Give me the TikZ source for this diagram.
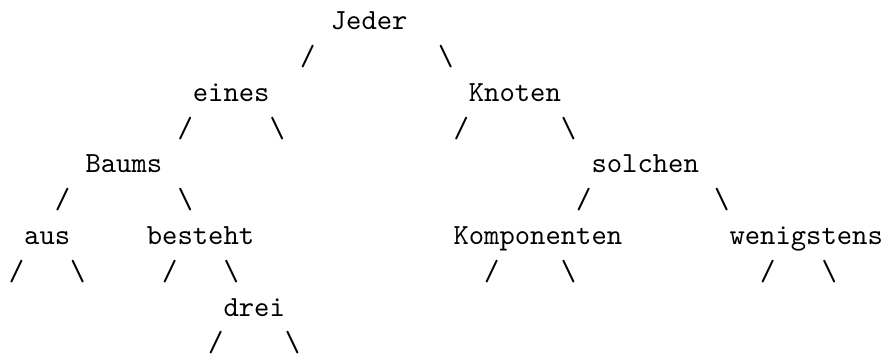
\documentclass[tikz,border=0pt]{standalone}
\usepackage{fontspec}
\usepackage{tikz}

\begin{document}
\begin{tikzpicture}[x=5.25pt, y=-12.26pt,
    txt/.style={anchor=base west, inner sep=0pt, font=\ttfamily}]
    \useasboundingbox (-0.54, -0.83) rectangle (56.98, 9.12);

    \node[txt] at (21, 0) (Jeder)       {Jeder};
    \node[txt] at (19, 1) (L1)          {/};
    \node[txt] at (28, 1) (R1)          {\textbackslash};

    \node[txt] at (12, 2) (eines)       {eines};
    \node[txt] at (30, 2) (Knoten)      {Knoten};
    \node[txt] at (11, 3) (L2)          {/};
    \node[txt] at (17, 3) (R2)          {\textbackslash};
    \node[txt] at (29, 3) (L3)          {/};
    \node[txt] at (36, 3) (R3)          {\textbackslash};

    \node[txt] at (5, 4)  (Baums)       {Baums};
    \node[txt] at (38, 4) (solchen)     {solchen};
    \node[txt] at (3, 5)  (L4)          {/};
    \node[txt] at (11, 5) (R4)          {\textbackslash};
    \node[txt] at (37, 5) (L5)          {/};
    \node[txt] at (46, 5) (R5)          {\textbackslash};

    \node[txt] at (1, 6)  (aus)         {aus};
    \node[txt] at (9, 6)  (besteht)     {besteht};
    \node[txt] at (29, 6) (Komponenten) {Komponenten};
    \node[txt] at (47, 6) (wenigstens)  {wenigstens};
    \node[txt] at (0, 7)  (L6)          {/};
    \node[txt] at (4, 7)  (R6)          {\textbackslash};
    \node[txt] at (10, 7) (L7)          {/};
    \node[txt] at (14, 7) (R7)          {\textbackslash};
    \node[txt] at (31, 7) (L8)          {/};
    \node[txt] at (36, 7) (R8)          {\textbackslash};
    \node[txt] at (49, 7) (L9)          {/};
    \node[txt] at (53, 7) (R9)          {\textbackslash};

    \node[txt] at (14, 8) (drei)        {drei};
    \node[txt] at (13, 9) (L10)         {/};
    \node[txt] at (18, 9) (R10)         {\textbackslash};
\end{tikzpicture}
\end{document}
